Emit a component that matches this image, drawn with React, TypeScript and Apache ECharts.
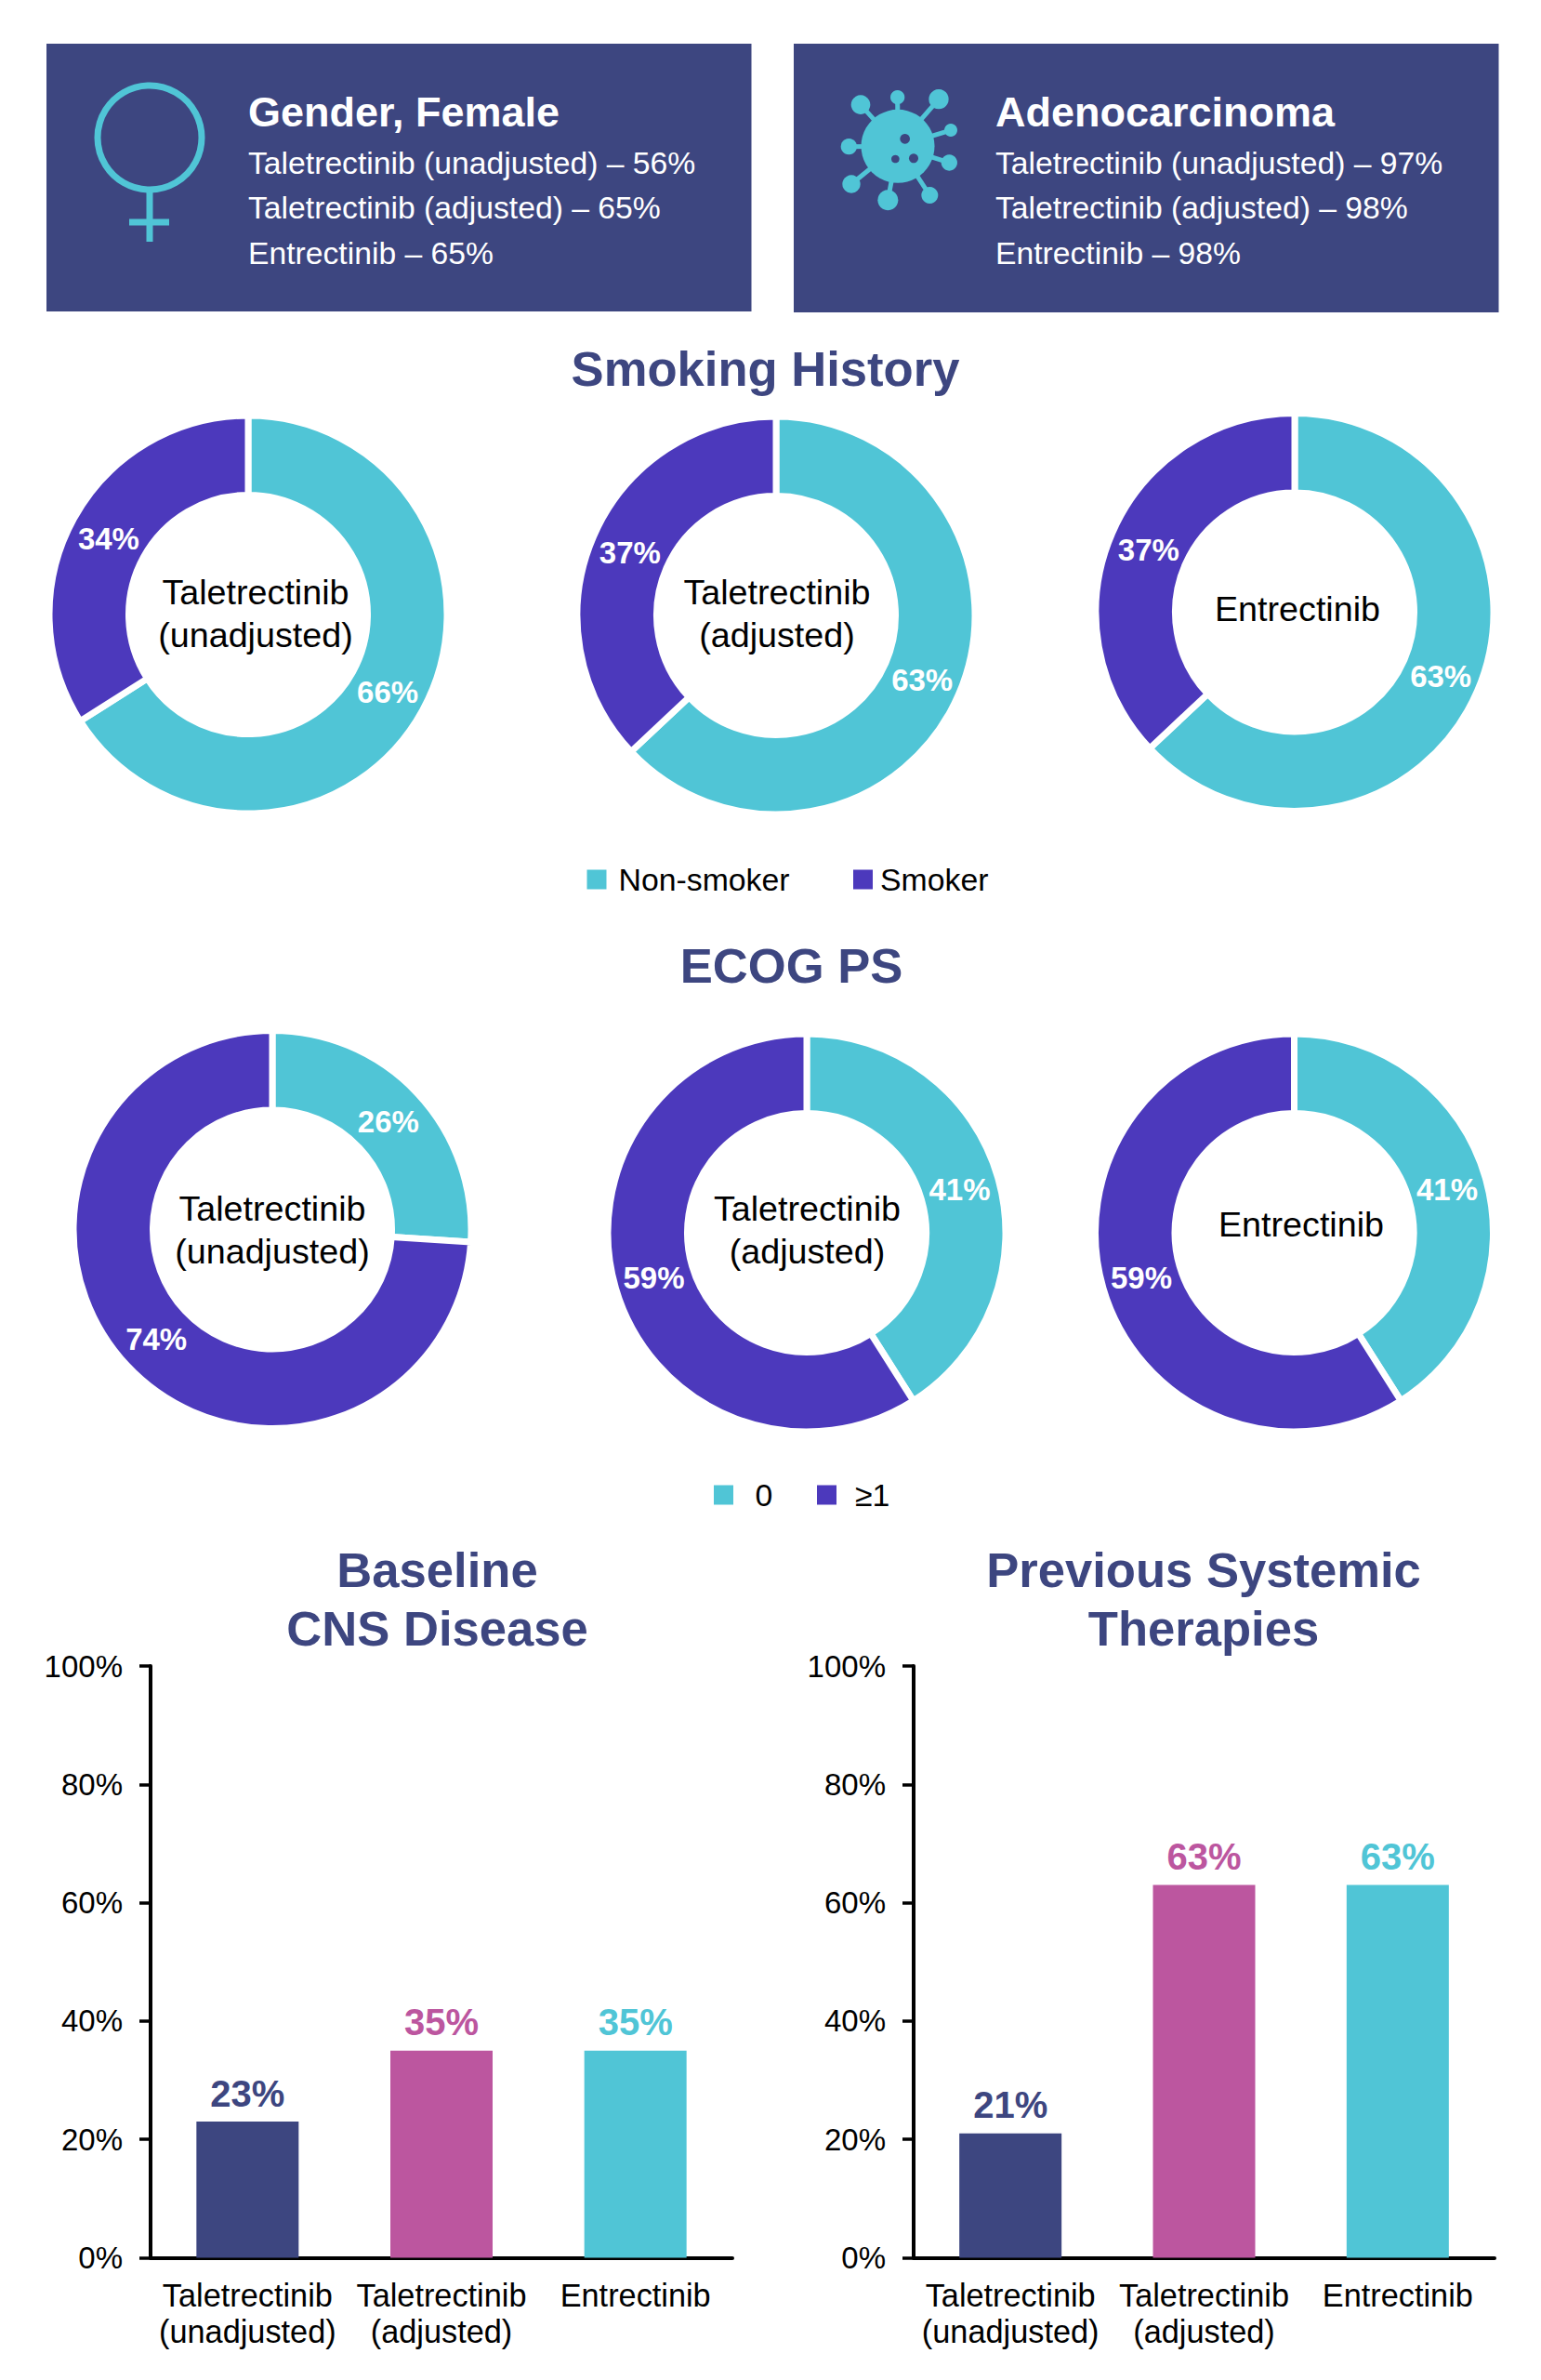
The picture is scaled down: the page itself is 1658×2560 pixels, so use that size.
import React, { useEffect, useRef } from "react";
import * as echarts from "echarts";

const TEAL = "#50C5D6";
const PURPLE = "#4C39BC";
const NAVY = "#3D4680";
const MAGENTA = "#BC569F";
const FONT = '"Liberation Sans", Arial, sans-serif';

const panelGender = ["Taletrectinib (unadjusted) – 56%", "Taletrectinib (adjusted) – 65%", "Entrectinib – 65%"];
const panelAdeno = ["Taletrectinib (unadjusted) – 97%", "Taletrectinib (adjusted) – 98%", "Entrectinib – 98%"];

const smokingNames = ["Non-smoker", "Smoker"];
const smokingUnadjusted = [66, 34];
const smokingAdjusted = [63, 37];
const smokingEntrectinib = [63, 37];

const ecogNames = ["0", "≥1"];
const ecogUnadjusted = [26, 74];
const ecogAdjusted = [41, 59];
const ecogEntrectinib = [41, 59];

const barCategories = ["Taletrectinib\n(unadjusted)", "Taletrectinib\n(adjusted)", "Entrectinib"];
const cnsValues = [23, 35, 35];
const therapyValues = [21, 63, 63];
const barColors = [NAVY, MAGENTA, TEAL];

function txt(x: number, y: number, text: string, fontSize: number, fill: string, fontWeight = "normal", align = "center") {
  return {
    type: "text",
    silent: true,
    style: { x, y, text, fontSize, fontFamily: FONT, fontWeight, fill, align, verticalAlign: "middle" },
  };
}

function pie(names: string[], values: number[], cx: number, cy: number) {
  const total = values.reduce((a, b) => a + b, 0);
  let acc = 0;
  return {
    type: "pie",
    center: [cx, cy],
    radius: [128.5, 214],
    startAngle: 90,
    clockwise: true,
    silent: true,
    avoidLabelOverlap: false,
    itemStyle: { borderColor: "#ffffff", borderWidth: 7 },
    label: {
      show: true,
      position: "inside",
      formatter: "{c}%",
      color: "#ffffff",
      fontFamily: FONT,
      fontWeight: "bold",
      fontSize: 33,
    },
    labelLine: { show: false },
    data: names.map((name, i) => {
      // Labels sit slightly inside the ring's mid-radius in the reference.
      const mid = ((acc + values[i] / 2) / total) * 2 * Math.PI;
      acc += values[i];
      return {
        name,
        value: values[i],
        itemStyle: { color: i === 0 ? TEAL : PURPLE },
        label: { offset: [-3 * Math.sin(mid), 3 * Math.cos(mid) + 1] },
      };
    }),
  };
}

function legend(name: string, left: number, centerY: number, pad: number) {
  return {
    left,
    top: centerY - 19,
    padding: 0,
    itemWidth: 23,
    itemHeight: 23,
    selectedMode: false,
    data: [{ name, icon: "rect" }],
    textStyle: { fontFamily: FONT, fontSize: 33.8, color: "#000000", padding: [0, 0, 0, pad], lineHeight: 38 },
  };
}

function femaleIcon() {
  const stroke = { stroke: TEAL, fill: "none" };
  return [
    { type: "circle", silent: true, shape: { cx: 161, cy: 148, r: 56 }, style: { ...stroke, lineWidth: 7 } },
    { type: "line", silent: true, shape: { x1: 161, y1: 206, x2: 161, y2: 260 }, style: { ...stroke, lineWidth: 7 } },
    { type: "line", silent: true, shape: { x1: 139, y1: 239, x2: 182, y2: 239 }, style: { ...stroke, lineWidth: 7 } },
  ];
}

function virusIcon() {
  const ox = 880;
  const oy = 70;
  const k = 1 / 3;
  const bx = 258;
  const by = 262;
  const spikes = [
    [138, 128, 31], [257, 104, 23], [390, 110, 32], [429, 210, 21], [424, 315, 26],
    [361, 420, 27], [226, 436, 33], [108, 384, 29], [100, 263, 26],
  ];
  const holes = [[281, 238, 16], [250, 303, 13], [309, 301, 15]];
  const els: any[] = [];
  spikes.forEach(([x, y, r]) => {
    els.push({
      type: "line",
      silent: true,
      shape: { x1: ox + bx * k, y1: oy + by * k, x2: ox + x * k, y2: oy + y * k },
      style: { stroke: TEAL, lineWidth: 5 },
    });
    els.push({ type: "circle", silent: true, shape: { cx: ox + x * k, cy: oy + y * k, r: r * k }, style: { fill: TEAL } });
  });
  els.push({ type: "circle", silent: true, shape: { cx: ox + bx * k, cy: oy + by * k, r: 39.5 }, style: { fill: TEAL } });
  holes.forEach(([x, y, r]) => {
    els.push({ type: "circle", silent: true, shape: { cx: ox + x * k, cy: oy + y * k, r: r * k }, style: { fill: NAVY } });
  });
  return els;
}

function barSeries(values: number[], idx: number) {
  return {
    type: "bar",
    xAxisIndex: idx,
    yAxisIndex: idx,
    barWidth: 110,
    silent: true,
    data: values.map((value, i) => ({
      value,
      itemStyle: { color: barColors[i] },
      label: { color: barColors[i] },
    })),
    label: {
      show: true,
      position: "top",
      distance: 10.5,
      formatter: "{c}%",
      fontFamily: FONT,
      fontWeight: "bold",
      fontSize: 40,
    },
  };
}

function xAxis(gridIndex: number) {
  return {
    type: "category",
    gridIndex,
    data: barCategories,
    axisLine: { show: true, lineStyle: { color: "#000000", width: 4 } },
    axisTick: { show: false },
    axisLabel: {
      interval: 0,
      margin: 20.5,
      fontFamily: FONT,
      fontSize: 34.3,
      color: "#000000",
      lineHeight: 39,
    },
  };
}

function yAxis(gridIndex: number) {
  return {
    type: "value",
    gridIndex,
    min: 0,
    max: 100,
    interval: 20,
    splitLine: { show: false },
    axisLine: { show: true, lineStyle: { color: "#000000", width: 4 } },
    axisTick: { show: true, length: 12, lineStyle: { color: "#000000", width: 3.5 } },
    axisLabel: { margin: 30, formatter: "{value}%", fontFamily: FONT, fontSize: 33, color: "#000000" },
  };
}

export default function App() {
  const ref = useRef<HTMLDivElement>(null);
  useEffect(() => {
    const chart = echarts.init(ref.current!, null, { renderer: "svg" });
    const option: any = {
      animation: false,
      backgroundColor: "#ffffff",
      tooltip: { show: false },
      legend: [
        legend(smokingNames[0], 629.5, 946, 7),
        legend(smokingNames[1], 916, 946, 2),
        legend(ecogNames[0], 766, 1608, 17.5),
        legend(ecogNames[1], 877, 1608, 14),
      ],
      grid: [
        { left: 162, top: 1792, width: 626, height: 636.5 },
        { left: 983, top: 1792, width: 625, height: 636.5 },
      ],
      xAxis: [xAxis(0), xAxis(1)],
      yAxis: [yAxis(0), yAxis(1)],
      series: [
        pie(smokingNames, smokingUnadjusted, 267, 661),
        pie(smokingNames, smokingAdjusted, 835, 662),
        pie(smokingNames, smokingEntrectinib, 1393, 658.5),
        pie(ecogNames, ecogUnadjusted, 293, 1322.5),
        pie(ecogNames, ecogAdjusted, 868, 1326),
        pie(ecogNames, ecogEntrectinib, 1392.5, 1326),
        barSeries(cnsValues, 0),
        barSeries(therapyValues, 1),
      ],
      graphic: [
        { type: "rect", silent: true, shape: { x: 50, y: 47, width: 758.5, height: 288 }, style: { fill: NAVY } },
        { type: "rect", silent: true, shape: { x: 854, y: 47, width: 758.5, height: 289 }, style: { fill: NAVY } },
        ...femaleIcon(),
        ...virusIcon(),
        txt(267, 120.5, "Gender, Female", 45, "#ffffff", "bold", "left"),
        txt(267, 175, panelGender[0], 33.7, "#ffffff", "normal", "left"),
        txt(267, 223, panelGender[1], 33.7, "#ffffff", "normal", "left"),
        txt(267, 272, panelGender[2], 33.7, "#ffffff", "normal", "left"),
        txt(1071, 120.5, "Adenocarcinoma", 45, "#ffffff", "bold", "left"),
        txt(1071, 175, panelAdeno[0], 33.7, "#ffffff", "normal", "left"),
        txt(1071, 223, panelAdeno[1], 33.7, "#ffffff", "normal", "left"),
        txt(1071, 272, panelAdeno[2], 33.7, "#ffffff", "normal", "left"),
        txt(823.5, 396, "Smoking History", 52.6, NAVY, "bold"),
        txt(851.5, 1038.5, "ECOG PS", 52.6, NAVY, "bold"),
        txt(470.5, 1688, "Baseline", 52.6, NAVY, "bold"),
        txt(470.5, 1751.5, "CNS Disease", 52.6, NAVY, "bold"),
        txt(1295, 1688, "Previous Systemic", 52.6, NAVY, "bold"),
        txt(1295, 1751.5, "Therapies", 52.6, NAVY, "bold"),
        txt(275, 637, "Taletrectinib", 37.7, "#000000"),
        txt(275, 683, "(unadjusted)", 37.7, "#000000"),
        txt(836, 637, "Taletrectinib", 37.7, "#000000"),
        txt(836, 683, "(adjusted)", 37.7, "#000000"),
        txt(1396, 655, "Entrectinib", 37.7, "#000000"),
        txt(293, 1300, "Taletrectinib", 37.7, "#000000"),
        txt(293, 1346, "(unadjusted)", 37.7, "#000000"),
        txt(868.5, 1300, "Taletrectinib", 37.7, "#000000"),
        txt(868.5, 1346, "(adjusted)", 37.7, "#000000"),
        txt(1400, 1317, "Entrectinib", 37.7, "#000000"),
      ],
    };
    chart.setOption(option);
    return () => chart.dispose();
  }, []);
  return <div ref={ref} style={{ position: "absolute", left: 0, top: 0, width: 1658, height: 2560 }} />;
}
